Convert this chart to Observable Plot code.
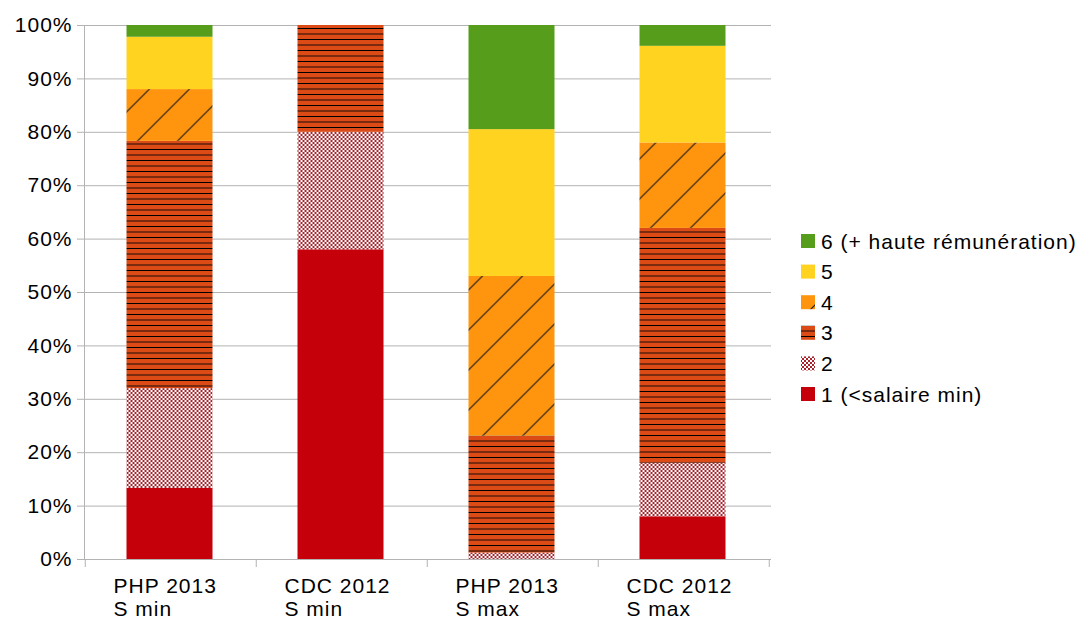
<!DOCTYPE html>
<html><head><meta charset="utf-8">
<script src="https://cdn.jsdelivr.net/npm/d3@7"></script>
<script src="https://cdn.jsdelivr.net/npm/@observablehq/plot@0.6"></script>
<style>body{margin:0;background:#fff;} svg{display:block} svg text{letter-spacing:1px}</style>
</head><body><div id="chart"></div>
<script>
const categories = ["PHP 2013 S min", "CDC 2012 S min", "PHP 2013 S max", "CDC 2012 S max"];
const tickLabels = ["PHP 2013\nS min", "CDC 2012\nS min", "PHP 2013\nS max", "CDC 2012\nS max"];
const seriesNames = ["1 (<salaire min)", "2", "3", "4", "5", "6 (+ haute rémunération)"];
const s1 = [13.3, 58.0, 0.0, 8.0];
const s2 = [18.7, 22.0, 1.2, 10.0];
const s3 = [46.3, 20.0, 21.9, 44.0];
const s4 = [9.7, 0.0, 29.9, 16.0];
const s5 = [9.8, 0.0, 27.5, 18.1];
const s6 = [2.2, 0.0, 19.5, 3.9];
const yTicks = [0, 10, 20, 30, 40, 50, 60, 70, 80, 90, 100];

const seriesValues = [s1, s2, s3, s4, s5, s6];
const fills = ["#c5000b", "url(#pat2)", "url(#pat3)", "url(#pat4)", "#ffd320", "#579d1c"];

const table = [];
seriesNames.forEach((s, si) => {
  categories.forEach((c, ci) => table.push({cat: c, series: s, value: seriesValues[si][ci]}));
});

const font = "'Liberation Sans', Arial, sans-serif";
const FS = 21;
const plot = Plot.plot({
  width: 1077, height: 619,
  marginLeft: 84, marginRight: 306, marginTop: 25, marginBottom: 60,
  style: {fontFamily: font, fontSize: FS + "px", background: "#fff", color: "#000", overflow: "visible"},
  x: {domain: categories, paddingInner: 0.5, paddingOuter: 0.25, label: null},
  y: {domain: [0, 100], label: null},
  color: {type: "ordinal", domain: seriesNames, range: fills},
  marks: [
    Plot.gridY(yTicks, {stroke: "#b3b3b3", strokeOpacity: 1, strokeWidth: 1}),
    Plot.barY(table, {x: "cat", y: "value", fill: "series", dx: -1.5}),
    Plot.axisY(yTicks, {tickSize: 7, tickPadding: 5, tickFormat: d => d + "%", stroke: "#b3b3b3", fill: "#000", fontSize: FS}),
    Plot.axisX({tickSize: 0, tickPadding: 16, tickFormat: d => tickLabels[categories.indexOf(d)],
      textAnchor: "start", dx: -58, lineHeight: 1.14, fontSize: FS, fill: "#000"}),
    Plot.frame({anchor: "left", stroke: "#b3b3b3", strokeOpacity: 1})
  ]
});
document.getElementById("chart").appendChild(plot);

const svg = d3.select(plot);
const defs = svg.insert("defs", ":first-child");
// pattern 2: small red lattice on white
const red2 = "#a8232b";
const p2 = defs.append("pattern").attr("id", "pat2").attr("patternUnits", "userSpaceOnUse").attr("width", 4).attr("height", 4);
p2.append("rect").attr("width", 4).attr("height", 4).attr("fill", "#ffffff");
p2.append("rect").attr("x", 0).attr("y", 0).attr("width", 2).attr("height", 2).attr("fill", red2);
p2.append("rect").attr("x", 2).attr("y", 2).attr("width", 2).attr("height", 2).attr("fill", red2);
// pattern 3: orange-red with horizontal lines
const p3 = defs.append("pattern").attr("id", "pat3").attr("patternUnits", "userSpaceOnUse").attr("width", 10).attr("height", 11);
p3.append("rect").attr("width", 10).attr("height", 11).attr("fill", "#dc4a15");
p3.append("rect").attr("x", 0).attr("y", 0).attr("width", 10).attr("height", 2).attr("fill", "#7a2a0e");
p3.append("rect").attr("x", 0).attr("y", 6).attr("width", 10).attr("height", 1).attr("fill", "#000");
// pattern 4: orange with diagonal lines
const p4 = defs.append("pattern").attr("id", "pat4").attr("patternUnits", "userSpaceOnUse").attr("width", 40).attr("height", 40);
p4.append("rect").attr("width", 40).attr("height", 40).attr("fill", "#ff950e");
p4.append("path").attr("d", "M0,40L40,0M-10,10L10,-10M30,50L50,30").attr("stroke", "#1a1a1a").attr("stroke-width", 1.1).attr("fill", "none");

// boundary ticks on the x axis
const xs = plot.scale("x");
const step = xs.step;
const y0 = plot.scale("y").apply(0);
const bounds = categories.map(c => xs.apply(c) - step * 0.25).concat([xs.apply(categories[categories.length - 1]) + step * 0.75]);
svg.append("g").selectAll("line").data(bounds).join("line")
  .attr("x1", d => d).attr("x2", d => d).attr("y1", y0).attr("y2", y0 + 8)
  .attr("stroke", "#b3b3b3");

// legend
const legend = svg.append("g").attr("font-family", font).attr("font-size", FS).attr("text-anchor", "start");
const items = seriesNames.map((s, i) => ({s, f: fills[i]})).reverse();
items.forEach((it, i) => {
  const cy = 241 + i * 30.6;
  legend.append("rect").attr("x", 801).attr("y", cy - 7).attr("width", 14).attr("height", 14).attr("fill", it.f);
  legend.append("text").attr("x", 821).attr("y", cy).attr("dy", "0.36em").attr("fill", "#000").text(it.s);
});
</script>
</body></html>
